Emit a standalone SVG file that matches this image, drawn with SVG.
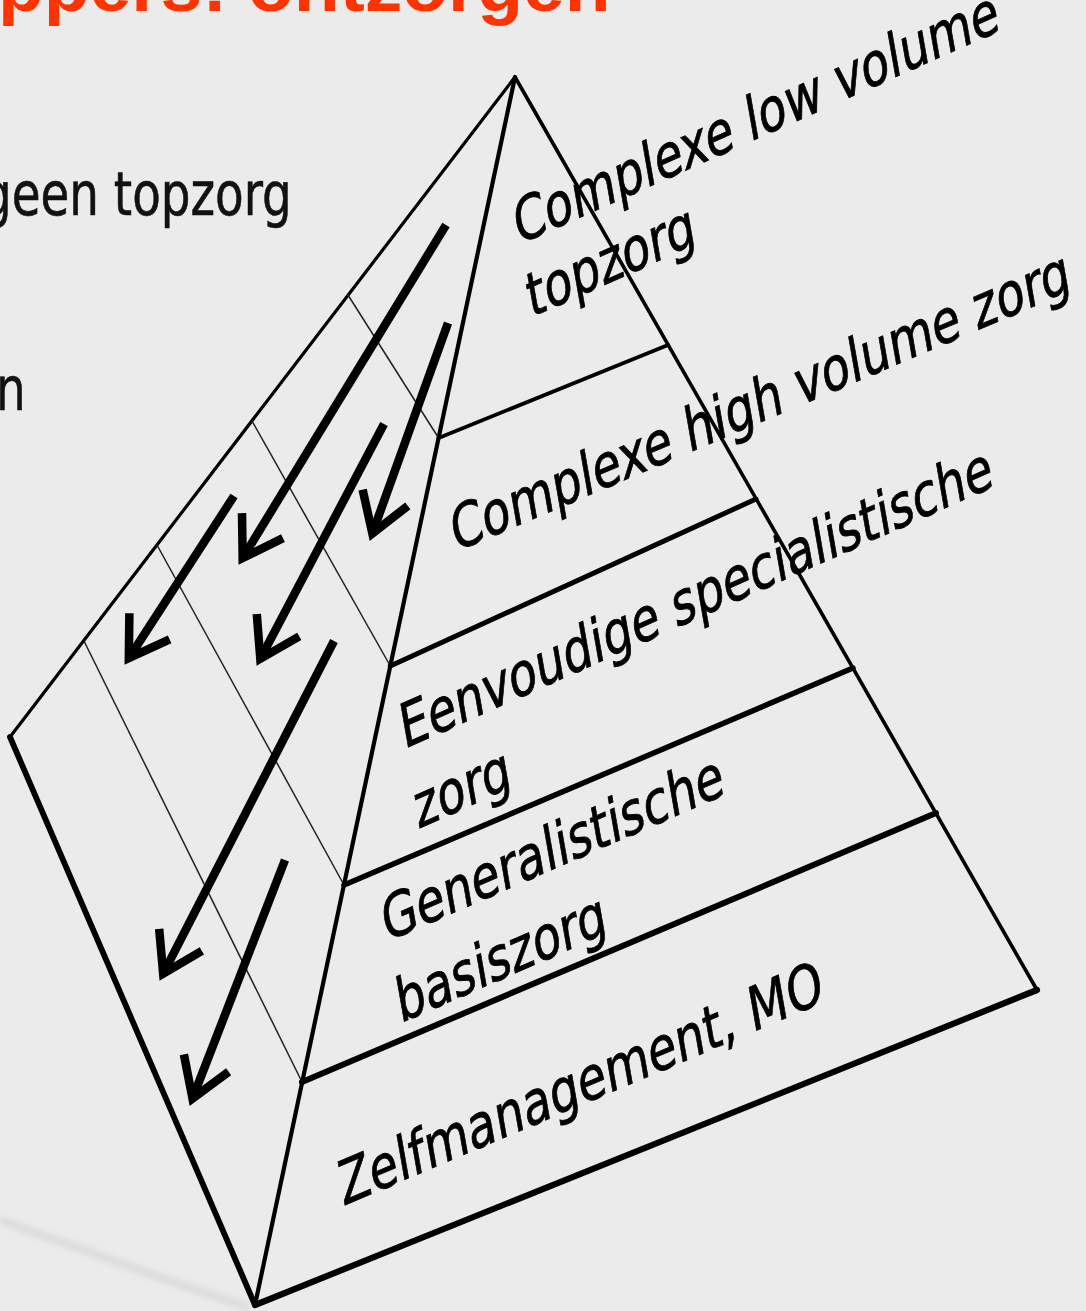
<svg xmlns="http://www.w3.org/2000/svg" width="1086" height="1311" viewBox="0 0 1086 1311">
  <defs>
    <style>
      .edge { stroke: #000; fill: none; stroke-linecap: round; stroke-linejoin: round; }
      .thin { stroke: #222; stroke-width: 1.5; fill: none; }
      .arrow { stroke: #000; stroke-width: 8.5; fill: none; marker-end: url(#chevron); }
      .label { font-family: "DejaVu Sans", "Verdana", sans-serif; font-size: 48px; fill: #000; stroke: #000; stroke-width: 0.7; }
      .side { font-family: "DejaVu Sans", "Verdana", sans-serif; font-size: 60px; fill: #111; stroke: #111; stroke-width: 0.6; }
      .title { font-family: "Liberation Sans", Arial, sans-serif; font-weight: bold; font-size: 75px; fill: #ff3300; }
    </style>
    <marker id="chevron" markerUnits="userSpaceOnUse" viewBox="0 0 60 60" markerWidth="60" markerHeight="60" refX="38" refY="30" orient="auto" overflow="visible">
      <path d="M6,6 L44,30 L6,54" fill="none" stroke="#000" stroke-width="8.5" stroke-linejoin="miter"/>
    </marker>
    <filter id="soft" x="-20%" y="-50%" width="140%" height="200%">
      <feGaussianBlur stdDeviation="3"/>
    </filter>
  </defs>

  <rect width="1086" height="1311" fill="#ebebeb"/>

  <!-- faint floor shadow -->
  <path d="M0,1220 L187,1287 L250,1308" stroke="#d9d9d9" stroke-width="7" fill="none" filter="url(#soft)"/>

  <!-- heading, cropped at the top edge -->
  <g id="title">
    <text class="title" x="-2" y="11">ppers: ontzorgen</text>
  </g>

  <!-- side notes on the left -->
  <g id="side-notes">
    <text class="side" transform="translate(-18,215) scale(0.78,1)">geen topzorg</text>
    <text class="side" transform="translate(-4,410) scale(0.78,1)">n</text>
  </g>

  <!-- pyramid outline -->
  <g id="pyramid">
    <line class="edge" x1="515" y1="77" x2="10" y2="737" stroke-width="3.2"/>
    <line class="edge" x1="515" y1="77" x2="1037" y2="990" stroke-width="3.6"/>
    <line class="edge" x1="515" y1="77" x2="255" y2="1305" stroke-width="4.2"/>
    <line class="edge" x1="10" y1="737" x2="255" y2="1305" stroke-width="5.8"/>
    <line class="edge" x1="255" y1="1305" x2="1037" y2="990" stroke-width="6.2"/>
    <!-- layer divisions carried onto the side face -->
    <line class="thin" x1="348" y1="295" x2="438.6" y2="438"/>
    <line class="thin" x1="252" y1="421" x2="390.3" y2="666"/>
    <line class="thin" x1="157" y1="545" x2="344" y2="885"/>
    <line class="thin" x1="84" y1="641" x2="302" y2="1082"/>
  </g>

  <!-- level 1: top -->
  <g id="layer-topzorg">
    <line class="edge" x1="438.6" y1="438" x2="668" y2="345" stroke-width="3.8"/>
    <text class="label" transform="matrix(0.9135 -0.4067 0.217 1.231 518 245)">
      <tspan x="0" y="0">Complexe low volume</tspan>
      <tspan x="0" dy="59">topzorg</tspan>
    </text>
  </g>

  <!-- level 2 -->
  <g id="layer-high-volume">
    <line class="edge" x1="390.3" y1="666" x2="756" y2="499" stroke-width="5"/>
    <text class="label" transform="matrix(0.9205 -0.3907 0.217 1.231 455 552)">Complexe high volume zorg</text>
  </g>

  <!-- level 3 -->
  <g id="layer-specialistisch">
    <line class="edge" x1="344" y1="885" x2="853" y2="668" stroke-width="5.5"/>
    <text class="label" transform="matrix(0.9135 -0.4067 0.217 1.231 404 749)">
      <tspan x="0" y="0">Eenvoudige specialistische</tspan>
      <tspan x="0" dy="65">zorg</tspan>
    </text>
  </g>

  <!-- level 4 -->
  <g id="layer-generalistisch">
    <line class="edge" x1="302" y1="1082" x2="936" y2="813" stroke-width="6"/>
    <text class="label" transform="matrix(0.917 -0.399 0.217 1.231 386 942)">
      <tspan x="0" y="0">Generalistische</tspan>
      <tspan x="0" dy="66">basiszorg</tspan>
    </text>
  </g>

  <!-- level 5: base -->
  <g id="layer-zelfmanagement">
    <text class="label" transform="matrix(0.9205 -0.3907 0.217 1.231 343 1206)">Zelfmanagement, MO</text>
  </g>

  <!-- downward shift arrows -->
  <g id="connectors">
    <line class="arrow" x1="446" y1="225" x2="245.8" y2="552.9"/>
    <line class="arrow" x1="448" y1="323" x2="374.4" y2="527.8"/>
    <line class="arrow" x1="384" y1="424" x2="263.1" y2="653.5"/>
    <line class="arrow" x1="234" y1="496" x2="132.1" y2="653.1"/>
    <line class="arrow" x1="334" y1="641" x2="165.9" y2="968.4"/>
    <line class="arrow" x1="285" y1="860" x2="194.7" y2="1092.9"/>
  </g>
</svg>
